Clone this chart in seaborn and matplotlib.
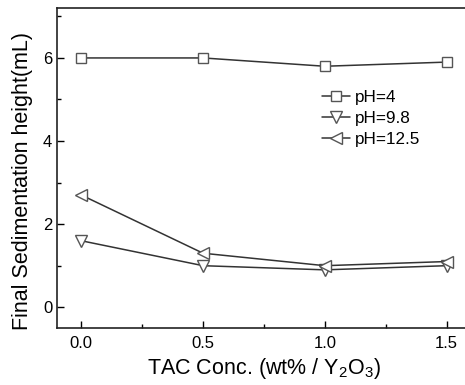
"""Sedimentation height vs TAC concentration, three pH levels"""
import pandas as pd
import seaborn as sns
import matplotlib.pyplot as plt
from matplotlib.ticker import MultipleLocator

TAC_CONC = [0.0, 0.5, 1.0, 1.5]
PH_4 = [6.0, 6.0, 5.8, 5.9]
PH_9_8 = [1.6, 1.0, 0.9, 1.0]
PH_12_5 = [2.7, 1.3, 1.0, 1.1]
LABELS = ["pH=4", "pH=9.8", "pH=12.5"]
MARKERS = ["s", "v", "<"]
MSIZES = [7.5, 8.5, 8.5]

sns.set_style("ticks")
plt.rcParams['font.family'] = ['Liberation Sans', 'DejaVu Sans']
plt.rcParams['mathtext.fontset'] = 'custom'
plt.rcParams['mathtext.rm'] = 'Liberation Sans'
plt.rcParams['text.color'] = 'black'
plt.rcParams['axes.labelcolor'] = 'black'
plt.rcParams['xtick.color'] = 'black'
plt.rcParams['ytick.color'] = 'black'

fig = plt.figure(figsize=(4.65, 3.85), dpi=100)
# right spine sits just past the picture edge, like the original crop
ax = fig.add_axes([0.1226, 0.148, 0.89, 0.831])

for vals, lab, mk, ms in zip([PH_4, PH_9_8, PH_12_5], LABELS, MARKERS, MSIZES):
    df = pd.DataFrame({"conc": TAC_CONC, "height": vals})
    sns.lineplot(data=df, x="conc", y="height", ax=ax, color="#333333",
                 linewidth=1.1, marker=mk, markersize=ms,
                 markerfacecolor="white", markeredgecolor="#555555",
                 markeredgewidth=1.0, label=lab)

ax.set_xlim(-0.1, 1.6)
ax.set_ylim(-0.5, 7.2)
ax.xaxis.set_major_locator(MultipleLocator(0.5))
ax.xaxis.set_minor_locator(MultipleLocator(0.25))
ax.yaxis.set_major_locator(MultipleLocator(2))
ax.yaxis.set_minor_locator(MultipleLocator(1))
ax.xaxis.set_major_formatter(plt.FormatStrFormatter('%.1f'))
ax.tick_params(which='both', direction='in', labelsize=12, width=1.0)
ax.tick_params(which='major', length=5)
ax.tick_params(which='minor', length=3)
ax.tick_params(axis='x', pad=6)
for sp in ax.spines.values():
    sp.set_linewidth(1.2)
    sp.set_color("#222222")

ax.set_xlabel(r"TAC Conc. (wt% / Y$_2$O$_3$)", fontsize=15.5, labelpad=3)
ax.set_ylabel("Final Sedimentation height(mL)", fontsize=15.5)
ax.yaxis.set_label_coords(-0.058, 0.46)

ax.legend(loc='upper left', bbox_to_anchor=(0.64, 0.745), frameon=False,
          fontsize=12.3, handlelength=1.65, handletextpad=0.3,
          labelspacing=0.35, borderaxespad=0, borderpad=0)

fig.savefig("out.png", dpi=100)
